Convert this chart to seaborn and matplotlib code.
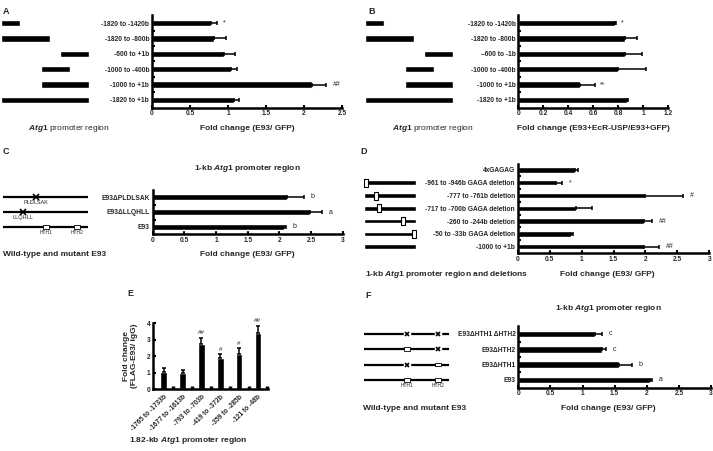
import numpy as np
import seaborn as sns
import matplotlib.pyplot as plt
from matplotlib.patches import Rectangle

W, H = 713, 451

# panel A / B: promoter fragments
frag_labels_a = ['-1820 to -1420b', '-1820 to -800b', '-600 to +1b',
                 '-1000 to -400b', '-1000 to +1b', '-1820 to +1b']
frag_start_a = [-1820, -1820, -600, -1000, -1000, -1820]
frag_end_a = [-1420, -800, 1, -400, 1, 1]
fold_a = [0.77, 0.81, 0.95, 1.04, 2.11, 1.08]
top_a = [0.85, 0.97, 1.09, 1.12, 2.29, 1.15]
mark_a = ['*', '', '', '', '##', '']

frag_labels_b = ['-1820 to -1420b', '-1820 to -800b', '\u2013600 to -1b',
                 '-1000 to -400b', '-1000 to +1b', '-1820 to +1b']
frag_start_b = [-1820, -1820, -600, -1000, -1000, -1820]
frag_end_b = [-1420, -800, -1, -400, 1, 1]
fold_b = [0.77, 0.85, 0.85, 0.80, 0.49, 0.87]
top_b = [0.78, 0.95, 0.99, 1.02, 0.61, 0.88]
mark_b = ['*', '', '', '', '**', '']

# panel C: E93 mutants
e93_labels_c = ['E93\u0394PLDLSAK', 'E93\u0394LLQHLL', 'E93']
fold_c = [2.12, 2.49, 2.07]
top_c = [2.39, 2.68, 2.10]
mark_c = ['b', 'a', 'b']

# panel D: GAGA deletions
del_labels = ['4xGAGAG', '-961 to -946b GAGA deletion', '-777 to -761b deletion',
              '-717 to -700b GAGA deletion', '-260 to -244b deletion',
              '-50 to -33b GAGA deletion', '-1000 to +1b']
del_start = [-961, -777, -717, -260, -50]
del_end = [-946, -761, -700, -244, -33]
fold_d = [0.90, 0.60, 2.00, 0.91, 1.98, 0.83, 1.97]
top_d = [0.95, 0.70, 2.59, 1.16, 2.10, 0.86, 2.21]
mark_d = ['', '*', '#', '', '##', '', '##']

# panel E: ChIP
chip_labels = ['-1765 to -1733b', '-1677 to -1613b', '-793 to -703b',
               '-419 to -372b', '-359 to -285b', '-121 to -48b']
fold_e = [1.07, 1.01, 2.75, 1.88, 2.12, 3.39]
top_e = [1.31, 1.17, 3.13, 2.14, 2.48, 3.86]
mark_e = ['', '', '##', '#', '#', '##']

# panel F: HTH mutants
hth_labels = ['E93\u0394HTH1 \u0394HTH2', 'E93\u0394HTH2', 'E93\u0394HTH1', 'E93']
fold_f = [1.19, 1.30, 1.56, 2.05]
top_f = [1.31, 1.36, 1.77, 2.08]
mark_f = ['c', 'c', 'b', 'a']
hth_state = [('x', 'x'), ('box', 'x'), ('x', 'box'), ('box', 'box')]

# E93 schematic positions (0-100 scale)
HTH1 = (47, 54)
HTH2 = (83, 90)
PLDLSAK_POS = 39
LLQHLL_POS = 23.5

sns.set_theme(style='ticks')
plt.rcParams['font.family'] = ['Liberation Sans', 'DejaVu Sans']
plt.rcParams['font.weight'] = 'bold'
plt.rcParams['mathtext.fontset'] = 'custom'
plt.rcParams['mathtext.rm'] = 'Liberation Sans:bold'
plt.rcParams['mathtext.it'] = 'Liberation Sans:italic:bold'

TICK_FS = 4.8
LAB_FS = 6
BAR_W = 0.42

fig = plt.figure(figsize=(W / 100, H / 100), dpi=100)


def rect(l, t, r, b):
    return [l / W, 1 - b / H, (r - l) / W, (b - t) / H]


def ftext(x, y, s, **kw):
    kw.setdefault('fontsize', LAB_FS)
    fig.text(x / W, 1 - y / H, s, **kw)


def style_axes(ax):
    sns.despine(ax=ax)
    for side in ('left', 'bottom'):
        ax.spines[side].set_linewidth(1.8)
        ax.spines[side].set_color('black')
    ax.tick_params(axis='both', which='major', direction='in', length=2,
                   width=1.5, color='black', labelsize=TICK_FS, pad=2)
    ax.tick_params(axis='both', which='minor', direction='in', length=2,
                   width=1.5, color='black')
    ax.set_xlabel('')
    ax.set_ylabel('')
    ax.grid(False)


def hbar(box, cats, vals, tops, marks, xmax, step):
    ax = fig.add_axes(rect(*box))
    n = len(cats)
    pos = np.arange(n)
    sns.barplot(x=vals, y=cats, orient='h', color='black', saturation=1,
                width=BAR_W, ax=ax)
    ax.errorbar(vals, pos, xerr=[np.zeros(n), np.array(tops) - np.array(vals)],
                fmt='none', ecolor='black', elinewidth=1.1, capsize=1.3,
                capthick=1.1)
    for y, t, m in zip(pos, tops, marks):
        if m:
            ax.text(t + xmax * 0.035, y, m, va='center', ha='left',
                    fontsize=5, fontweight='normal')
    ax.set_xlim(0, xmax)
    ax.set_ylim(n - 0.5, -0.5)
    ticks = np.arange(0, xmax + 1e-9, step)
    ax.set_xticks(ticks)
    ax.set_xticklabels(['{:g}'.format(round(t, 2)) for t in ticks])
    ax.set_yticks(np.arange(n - 1) + 0.5, minor=True)
    style_axes(ax)
    ax.tick_params(axis='y', which='major', length=0, pad=2)
    return ax


def frag_diagram(box, starts, ends, n, xlim):
    ax = fig.add_axes(rect(*box))
    s = np.array(starts)
    e = np.array(ends)
    ax.barh(np.arange(len(s)), e - s, left=s, height=BAR_W, color='black')
    ax.set_xlim(*xlim)
    ax.set_ylim(n - 0.5, -0.5)
    ax.axis('off')
    return ax


# ---- A ----
hbar((152, 15.3, 342, 107.7), frag_labels_a, fold_a, top_a, mark_a, 2.5, 0.5)
frag_diagram((1, 15.3, 89, 107.7), frag_start_a, frag_end_a, 6, (-1820, 1))
ftext(3, 11, 'A', fontsize=6.5, va='center')
ftext(69, 128, '$\\mathit{Atg1}$ promoter region', ha='center', va='center',
      fontweight='normal')
ftext(247, 128, 'Fold change (E93/ GFP)', ha='center', va='center')

# ---- B ----
hbar((518.3, 15.3, 668.3, 107.7), frag_labels_b, fold_b, top_b, mark_b, 1.2, 0.2)
frag_diagram((365, 15.3, 453, 107.7), frag_start_b, frag_end_b, 6, (-1820, 1))
ftext(368, 11, 'B', fontsize=6.5, va='center')
ftext(433, 128, '$\\mathit{Atg1}$ promoter region', ha='center', va='center',
      fontweight='normal')
ftext(593, 128, 'Fold change (E93+EcR-USP/E93+GFP)', ha='center', va='center')

# ---- C ----
hbar((152.7, 189.5, 342.7, 234.5), e93_labels_c, fold_c, top_c, mark_c, 3, 0.5)
axc = fig.add_axes(rect(3, 189.5, 88, 234.5))
for y in range(3):
    axc.plot([0, 100], [y, y], color='black', lw=1.6)
axc.plot(PLDLSAK_POS, 0, marker='x', ms=4, mew=1.2, color='black')
axc.text(PLDLSAK_POS, 0.22, 'PLDLSAK', ha='center', va='top', fontsize=4,
         fontweight='normal')
axc.plot(LLQHLL_POS, 1, marker='x', ms=4, mew=1.2, color='black')
axc.text(LLQHLL_POS, 1.22, 'LLQHLL', ha='center', va='top', fontsize=4,
         fontweight='normal')
for lo, hi, name in [(HTH1[0], HTH1[1], 'HTH1'), (HTH2[0], HTH2[1], 'HTH2')]:
    axc.add_patch(Rectangle((lo, 2 - 0.12), hi - lo, 0.24, facecolor='white',
                            edgecolor='black', lw=0.6, zorder=3))
    axc.text((lo + hi) / 2, 2.2, name, ha='center', va='top', fontsize=3.6,
             fontweight='normal')
axc.set_xlim(0, 100)
axc.set_ylim(2.5, -0.5)
axc.axis('off')
ftext(3, 152, 'C', fontsize=6.5, va='center')
ftext(247, 169, '1-kb $\\mathit{Atg1}$ promoter region', ha='center', va='center')
ftext(247, 255, 'Fold change (E93/ GFP)', ha='center', va='center')
ftext(3, 255, 'Wild-type and mutant E93', ha='left', va='center')

# ---- D ----
hbar((517.7, 163.6, 709.3, 253), del_labels, fold_d, top_d, mark_d, 3, 0.5)
axd = fig.add_axes(rect(364, 163.6, 416, 253))
rows = np.arange(1, 7)
axd.barh(rows, 1001, left=-1000, height=0.36, color='black')
mid = (np.array(del_start) + np.array(del_end)) / 2
rect_marker = [(-0.4, -1), (0.4, -1), (0.4, 1), (-0.4, 1), (-0.4, -1)]
axd.plot(mid, rows[:len(mid)], ls='none', marker=rect_marker, ms=5.5,
         mfc='white', mec='black', mew=0.8)
axd.set_xlim(-1000, 1)
axd.set_ylim(6.5, -0.5)
axd.axis('off')
ftext(360, 152, 'D', fontsize=6.5, va='center')
ftext(447, 274, '1-kb $\\mathit{Atg1}$ promoter region and deletions',
      ha='center', va='center')
ftext(607, 274, 'Fold change (E93/ GFP)', ha='center', va='center')

# ---- E ----
axe = fig.add_axes(rect(153.3, 323.3, 268.3, 389.3))
pos = np.arange(len(chip_labels))
sns.barplot(x=chip_labels, y=fold_e, color='black', saturation=1, width=0.35,
            ax=axe)
axe.errorbar(pos, fold_e, yerr=[np.zeros(len(pos)),
                                np.array(top_e) - np.array(fold_e)],
             fmt='none', ecolor='black', elinewidth=1.1, capsize=1.3,
             capthick=1.1)
for x, t, m in zip(pos, top_e, mark_e):
    if m:
        axe.text(x, t + 0.15, m, ha='center', va='bottom', fontsize=4.5,
                 fontweight='normal')
axe.set_xlim(-0.55, 5.55)
axe.set_ylim(0, 4)
axe.set_yticks([0, 1, 2, 3, 4])
axe.set_xticks(pos + 0.5, minor=True)
style_axes(axe)
axe.tick_params(axis='x', which='major', length=0, pad=3)
axe.tick_params(axis='x', which='minor', length=2, width=2.5)
plt.setp(axe.get_xticklabels(), rotation=45, ha='right',
         rotation_mode='anchor')
ftext(127, 293, 'E', fontsize=6.5, va='center')
ftext(131, 356, 'Fold change\n(FLAG-E93/ IgG)', ha='center', va='center',
      rotation=90, multialignment='center')
ftext(188, 440, '1.82-kb $\\mathit{Atg1}$ promoter region', ha='center',
      va='center')

# ---- F ----
hbar((518.3, 326.3, 711, 387.6), hth_labels, fold_f, top_f, mark_f, 3, 0.5)
axf = fig.add_axes(rect(364, 326.3, 449, 387.6))
for y, states in enumerate(hth_state):
    axf.plot([0, 100], [y, y], color='black', lw=1.6)
    for (lo, hi), st in zip((HTH1, HTH2), states):
        c = (lo + hi) / 2
        if st == 'box':
            axf.add_patch(Rectangle((lo, y - 0.12), hi - lo, 0.24,
                                    facecolor='white', edgecolor='black',
                                    lw=0.6, zorder=3))
        else:
            axf.plot(c, y, marker='s', ms=4, mfc='white', mec='white',
                     zorder=3)
            axf.plot(c, y, marker='x', ms=3.5, mew=1.2, color='black',
                     zorder=4)
for (lo, hi), name in zip((HTH1, HTH2), ('HTH1', 'HTH2')):
    axf.text((lo + hi) / 2, 3.2, name, ha='center', va='top', fontsize=3.6,
             fontweight='normal')
axf.set_xlim(0, 100)
axf.set_ylim(3.5, -0.5)
axf.axis('off')
ftext(365, 296, 'F', fontsize=6.5, va='center')
ftext(608, 308, '1-kb $\\mathit{Atg1}$ promoter region', ha='center', va='center')
ftext(608, 409, 'Fold change (E93/ GFP)', ha='center', va='center')
ftext(363, 409, 'Wild-type and mutant E93', ha='left', va='center')

fig.savefig('out.png', dpi=100, facecolor='white')
